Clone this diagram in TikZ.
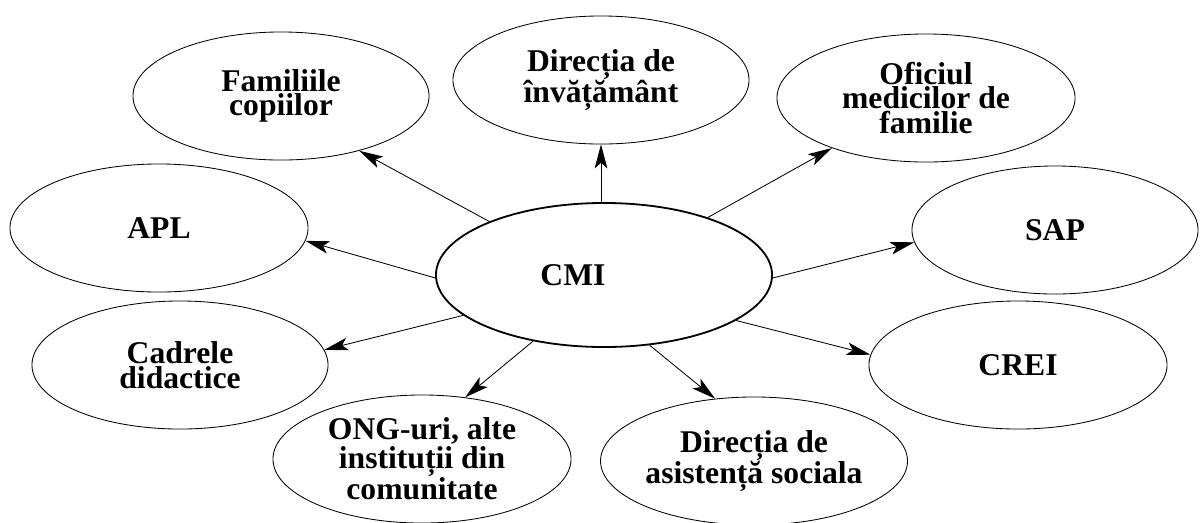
\documentclass[tikz,border=0pt]{standalone}
\usepackage{fontspec}
\setmainfont{Liberation Serif}
\usetikzlibrary{shapes.geometric,arrows.meta}
\begin{document}
\begin{tikzpicture}[x=0.025cm,y=-0.025cm,
                inst/.style={draw,ellipse,line width=0.6pt,inner sep=0pt,
                    minimum width=7.4cm,minimum height=3.2cm,align=center,
                    font=\fontsize{22.5}{17.5}\selectfont\bfseries},
                link/.style={line width=0.6pt,-{Stealth[length=17pt,width=9pt,inset=4pt]}}]
                \useasboundingbox(0,0)rectangle(1200,522);
                \node[inst,line width=1.3pt,minimum width=8.4cm,minimum height=3.6cm](CMI)at(604,275){CMI\hspace*{1.55cm}};
                \node[inst](Fam)at(281,96){Familiile\\copiilor};
                \node[inst](Dir)at(601,80){Direcția de\\învățământ};
                \node[inst,minimum width=7.45cm](Ofi)at(926,98){Oficiul\\medicilor de\\familie};
                \node[inst,minimum width=7.45cm](APL)at(159,228){APL};
                \node[inst,minimum width=7.15cm](SAP)at(1055,230){SAP};
                \node[inst](Cad)at(180,365){Cadrele\\didactice};
                \node[inst,minimum width=7.45cm](CREI)at(1018,365){CREI};
                \node[inst,minimum width=7.45cm](ONG)at(422,459){ONG-uri, alte\\instituții din\\comunitate};
                \node[inst,minimum width=7.3cm](Asi)at(754,461){Direcția de\\asistență sociala};
                \draw[link](CMI.155)--(Fam.-35);
                \draw[link](CMI.north-|Dir.south)--(Dir.south);
                \draw[link](CMI.29)--(Ofi.-152);
                \draw[link](CMI.181)--(APL.-5);
                \draw[link](CMI.-1)--(SAP.185);
                \draw[link](CMI.196)--(Cad.6);
                \draw[link](CMI.223)--(ONG.55);
                \draw[link](CMI.-57)--(Asi.122);
                \draw[link](CMI.-19.5)--(CREI.176);
            \end{tikzpicture}
\end{document}
